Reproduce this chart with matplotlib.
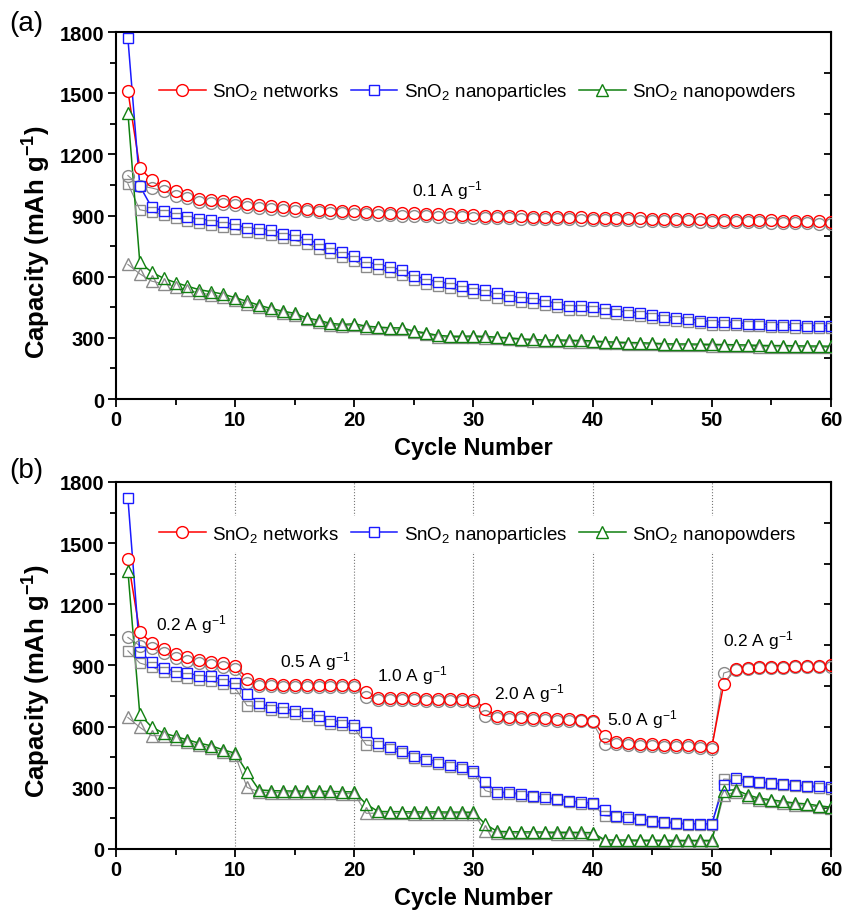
import matplotlib
matplotlib.use('Agg')
import matplotlib.pyplot as plt
from matplotlib.lines import Line2D

plt.rcParams['font.family'] = ['Liberation Sans', 'DejaVu Sans']
plt.rcParams['mathtext.fontset'] = 'custom'
plt.rcParams['mathtext.rm'] = 'Liberation Sans'
plt.rcParams['mathtext.it'] = 'Liberation Sans:italic'
plt.rcParams['mathtext.bf'] = 'Liberation Sans:bold'

cycles = list(range(1, 61))

# ---- panel (a): 0.1 A/g ----
net_dis_a = [1512, 1134, 1073, 1047, 1019, 1002, 981, 975, 970, 965,
             956, 951, 947, 940, 937, 932, 928, 925, 922, 920,
             918, 916, 914, 912, 910, 908, 906, 905, 903, 901,
             900, 899, 897, 896, 895, 894, 893, 892, 891, 890,
             889, 888, 888, 886, 885, 884, 883, 882, 881, 880,
             880, 879, 878, 877, 876, 875, 874, 872, 871, 870]
net_chg_a = [1096, 1045, 1035, 1020, 998, 985, 965, 960, 955, 950,
             942, 937, 933, 927, 924, 920, 916, 913, 910, 908,
             906, 904, 902, 900, 898, 896, 895, 893, 892, 890,
             889, 888, 886, 885, 884, 883, 882, 881, 880, 879,
             878, 877, 877, 875, 874, 873, 872, 871, 870, 869,
             869, 868, 867, 866, 865, 864, 863, 861, 860, 859]
np_dis_a = [1770, 1045, 940, 924, 910, 894, 882, 877, 866, 857,
            838, 834, 830, 810, 802, 785, 761, 743, 720, 703,
            670, 662, 646, 633, 605, 588, 575, 567, 555, 540,
            534, 518, 506, 498, 493, 482, 468, 457, 455, 449,
            439, 432, 426, 424, 414, 403, 399, 394, 385, 378,
            377, 375, 369, 368, 365, 365, 361, 360, 360, 358]
np_chg_a = [1056, 928, 918, 903, 890, 874, 862, 855, 843, 832,
            818, 812, 806, 788, 778, 762, 737, 718, 697, 678,
            648, 640, 622, 610, 583, 566, 552, 543, 532, 518,
            512, 497, 485, 478, 473, 463, 450, 438, 436, 432,
            422, 415, 410, 408, 398, 388, 385, 380, 372, 365,
            364, 363, 357, 356, 353, 353, 349, 348, 348, 346]
pw_dis_a = [1405, 670, 622, 592, 571, 553, 536, 526, 514, 497,
            479, 460, 444, 431, 420, 398, 386, 371, 366, 369,
            357, 353, 349, 349, 333, 324, 312, 308, 308, 309,
            307, 303, 300, 295, 292, 289, 290, 288, 287, 285,
            281, 279, 277, 276, 274, 271, 270, 270, 269, 268,
            267, 266, 265, 263, 262, 262, 261, 260, 260, 259]
pw_chg_a = [660, 614, 578, 565, 550, 535, 520, 512, 500, 485,
            468, 450, 435, 422, 412, 390, 378, 364, 359, 361,
            350, 346, 342, 342, 327, 318, 306, 302, 302, 303,
            301, 297, 294, 289, 286, 283, 284, 282, 281, 279,
            275, 273, 271, 270, 268, 265, 264, 264, 263, 262,
            261, 260, 259, 257, 256, 256, 255, 254, 254, 253]

# ---- panel (b): rate test ----
net_dis_b = [1420, 1063, 1010, 981, 956, 940, 928, 919, 911, 899,
             836, 810, 808, 806, 806, 805, 805, 804, 804, 803,
             768, 740, 740, 739, 739, 738, 737, 736, 735, 733,
             687, 652, 648, 645, 643, 641, 639, 637, 635, 630,
             555, 526, 518, 515, 513, 511, 510, 508, 506, 501,
             809, 885, 890, 892, 894, 895, 896, 897, 898, 900]
net_chg_b = [1038, 997, 985, 960, 938, 922, 912, 903, 895, 884,
             812, 798, 797, 796, 795, 795, 794, 794, 793, 793,
             743, 730, 730, 729, 729, 728, 727, 726, 725, 723,
             654, 642, 638, 636, 634, 632, 630, 628, 626, 621,
             515, 514, 508, 506, 504, 502, 501, 499, 497, 492,
             863, 880, 885, 887, 889, 890, 891, 892, 893, 895]
np_dis_b = [1722, 965, 919, 889, 870, 863, 850, 846, 830, 812,
            760, 716, 695, 690, 677, 666, 651, 629, 624, 609,
            572, 518, 501, 482, 458, 441, 428, 412, 401, 384,
            327, 278, 278, 270, 261, 253, 245, 237, 229, 226,
            193, 163, 155, 147, 139, 134, 128, 124, 124, 123,
            314, 347, 335, 330, 324, 319, 314, 310, 307, 302]
np_chg_b = [972, 912, 895, 866, 848, 840, 828, 823, 808, 790,
            703, 700, 680, 674, 660, 650, 635, 613, 608, 592,
            510, 505, 488, 470, 446, 430, 417, 401, 390, 373,
            286, 270, 270, 262, 254, 246, 238, 230, 222, 219,
            163, 157, 149, 141, 133, 128, 122, 118, 118, 117,
            343, 340, 328, 323, 317, 312, 307, 303, 300, 295]
pw_dis_b = [1365, 660, 598, 568, 552, 535, 519, 506, 486, 470,
            376, 290, 286, 285, 284, 284, 283, 282, 281, 280,
            220, 184, 183, 183, 182, 182, 182, 181, 181, 180,
            121, 86, 85, 84, 84, 83, 82, 82, 81, 80,
            45, 44, 44, 43, 43, 43, 42, 42, 42, 42,
            286, 291, 265, 249, 241, 233, 225, 221, 212, 205]
pw_chg_b = [645, 597, 556, 555, 540, 524, 508, 496, 476, 460,
            302, 280, 277, 276, 275, 275, 274, 273, 272, 271,
            175, 176, 175, 175, 174, 174, 174, 173, 173, 172,
            90, 79, 78, 77, 77, 76, 75, 75, 74, 73,
            40, 38, 38, 37, 37, 37, 36, 36, 36, 36,
            265, 278, 256, 242, 234, 226, 218, 214, 205, 200]

series_names = ['SnO$_2$ networks', 'SnO$_2$ nanoparticles', 'SnO$_2$ nanopowders']
colors = ['#ff0000', '#1a1aff', '#108010']
markers = ['o', 's', '^']
msizes = [8.5, 7.5, 8.5]
gray = '#8a8a8a'

rate_labels = ['0.2 A g$^{-1}$', '0.5 A g$^{-1}$', '1.0 A g$^{-1}$',
               '2.0 A g$^{-1}$', '5.0 A g$^{-1}$', '0.2 A g$^{-1}$']
rate_label_x = [6.3, 16.7, 24.9, 34.7, 44.2, 53.9]
rate_label_y = [1104, 925, 858, 765, 638, 1026]
rate_bounds = [10, 20, 30, 40, 50]


def draw_panel(ax, dis_list, chg_list, label_y):
    for dis, chg, c, m, ms in zip(dis_list, chg_list, colors, markers, msizes):
        ax.plot(cycles, chg, color=gray, lw=0.8, zorder=1)
        ax.plot(cycles, dis, color=c, lw=1.1, zorder=1.5)
        # white under discharge markers -> line gaps like Origin
        ax.plot(cycles, dis, ls='none', marker=m, ms=ms, mfc='white',
                mec='none', zorder=2)
        ax.plot(cycles, chg, ls='none', marker=m, ms=ms, mfc='none',
                mec=gray, mew=1.0, zorder=3)
        ax.plot(cycles, dis, ls='none', marker=m, ms=ms, mfc='none',
                mec=c, mew=1.0, zorder=4)
    ax.set_xlim(0, 60)
    ax.set_ylim(0, 1800)
    ax.set_xticks(range(0, 61, 10))
    ax.set_xticks(range(5, 60, 10), minor=True)
    ax.set_yticks(range(0, 1801, 300))
    ax.set_yticks(range(150, 1800, 300), minor=True)
    ax.tick_params(which='both', direction='out', width=1.3, labelsize=14.5,
                   top=False, right=False)
    ax.tick_params(which='major', length=6, pad=2)
    ax.tick_params(which='minor', length=4)
    for lab in ax.get_xticklabels() + ax.get_yticklabels():
        lab.set_fontweight('bold')
    ax.secondary_yaxis('right').tick_params(labelright=False, direction='in',
                                            length=5, width=1.3)
    for s in ax.spines.values():
        s.set_linewidth(1.5)
    ax.set_xlabel('Cycle Number', fontsize=17, fontweight='bold', labelpad=5)
    ax.set_ylabel('Capacity (mAh g$^{\\mathbf{-1}}$)', fontsize=18.5,
                  fontweight='bold')
    ax.yaxis.set_label_coords(-0.088, label_y)
    handles = [Line2D([], [], color=c, lw=1.1, marker=m, ms=ms, mfc='white',
                      mec=c, mew=1.0)
               for c, m, ms in zip(colors, markers, msizes)]
    return handles


fig = plt.figure(figsize=(8.44, 9.12), dpi=100)
ax_a = fig.add_axes([0.1374, 0.5614, 0.8472, 0.4024])
ax_b = fig.add_axes([0.1374, 0.068, 0.8472, 0.4024])

h = draw_panel(ax_a, [net_dis_a, np_dis_a, pw_dis_a],
               [net_chg_a, np_chg_a, pw_chg_a], 0.43)
ax_a.legend(h, series_names, loc='center', bbox_to_anchor=(0.506, 0.837),
            ncol=3, fontsize=13.5, frameon=False, handlelength=2.5,
            handletextpad=0.35, columnspacing=0.6)
ax_a.text(27.8, 1027, '0.1 A g$^{-1}$', fontsize=12.5, ha='center', va='center')

for xb in rate_bounds:
    ax_b.axvline(xb, color='#777777', ls=':', lw=0.8, zorder=0)
h = draw_panel(ax_b, [net_dis_b, np_dis_b, pw_dis_b],
               [net_chg_b, np_chg_b, pw_chg_b], 0.46)
leg = ax_b.legend(h, series_names, loc='center', bbox_to_anchor=(0.506, 0.858),
                  ncol=3, fontsize=13.5, frameon=True, facecolor='white',
                  edgecolor='none', framealpha=1, fancybox=False,
                  handlelength=2.5, handletextpad=0.35, columnspacing=0.6)
for lx, ly, lt in zip(rate_label_x, rate_label_y, rate_labels):
    ax_b.text(lx, ly, lt, fontsize=12.5, ha='center', va='center')

fig.text(0.031, 0.974, '(a)', fontsize=20, ha='center', va='center')
fig.text(0.031, 0.484, '(b)', fontsize=20, ha='center', va='center')

fig.savefig('out.png', dpi=100)
